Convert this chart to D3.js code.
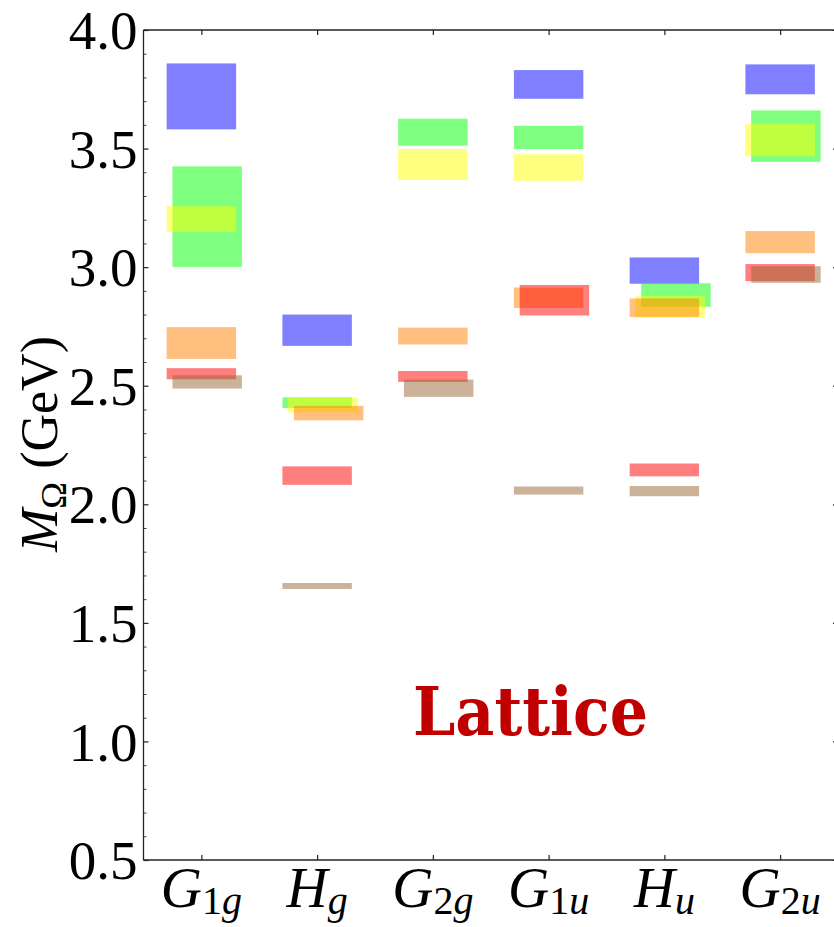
<!DOCTYPE html>
<html>
<head>
<meta charset="utf-8">
<script src="https://cdn.jsdelivr.net/npm/d3@7"></script>
<style>
  html, body { margin: 0; padding: 0; background: #fff; }
  svg { display: block; }
  text { font-family: "Liberation Serif", "Times New Roman", serif; fill: #000; }
</style>
</head>
<body>
<script>
// Omega baryon spectrum by lattice irrep: mass bands [low, high] in GeV
const categories = ["G1g", "Hg", "G2g", "G1u", "Hu", "G2u"];
const catBase = ["G", "H", "G", "G", "H", "G"];
const catSubNum = ["1", "", "2", "1", "", "2"];
const catSubPar = ["g", "g", "g", "u", "u", "u"];

const blueBands   = [[3.581, 3.859], [2.668, 2.800], null,           [3.710, 3.831], [2.930, 3.041], [3.729, 3.855]];
const greenBands  = [[3.001, 3.425], [2.406, 2.451], [3.512, 3.626], [3.498, 3.596], [2.833, 2.932], [3.444, 3.661]];
const yellowBands = [[3.149, 3.257], [2.387, 2.449], [3.368, 3.497], [3.364, 3.476], [2.786, 2.878], [3.468, 3.605]];
const orangeBands = [[2.613, 2.747], [2.354, 2.415], [2.674, 2.745], [2.828, 2.914], [2.790, 2.868], [3.059, 3.152]];
const redBands    = [[2.527, 2.574], [2.082, 2.160], [2.516, 2.562], [2.796, 2.925], [2.118, 2.172], [2.941, 3.013]];
const brownBands  = [[2.488, 2.544], [1.643, 1.668], [2.453, 2.526], [2.041, 2.075], [2.034, 2.077], [2.934, 3.004]];

// small sideways nudge (in lanes) so overlapping bands stay visible
const blueLanes   = [0, 0, 0, 0, 0, 0];
const greenLanes  = [1, 0, 0, 0, 2, 1];
const yellowLanes = [0, 1, 0, 0, 1, 0];
const orangeLanes = [0, 2, 0, 0, 0, 0];
const redLanes    = [0, 0, 0, 1, 0, 0];
const brownLanes  = [1, 0, 1, 0, 0, 1];

const yTicks = [0.5, 1.0, 1.5, 2.0, 2.5, 3.0, 3.5, 4.0];

const series = [
  { bands: blueBands,   lanes: blueLanes,   color: "rgb(0,0,255)" },
  { bands: greenBands,  lanes: greenLanes,  color: "rgb(0,255,0)" },
  { bands: yellowBands, lanes: yellowLanes, color: "rgb(255,255,0)" },
  { bands: orangeBands, lanes: orangeLanes, color: "rgb(255,128,0)" },
  { bands: redBands,    lanes: redLanes,    color: "rgb(255,0,0)" },
  { bands: brownBands,  lanes: brownLanes,  color: "rgb(153,102,51)" }
];

const W = 834, H = 927;
const frameL = 143.5, frameR = 838, frameT = 30, frameB = 860;

const svg = d3.select("body").append("svg")
  .attr("width", W).attr("height", H);

const x = d3.scalePoint().domain(categories).range([frameL, frameR]).padding(0.5);
const y = d3.scaleLinear().domain([0.5, 4.0]).range([frameB, frameT]);
const step = x.step();
const barW = step * 0.6;
const laneW = step * 0.05;

// bands
const plot = svg.append("g");
series.forEach(s => {
  const rows = categories.map((c, i) => ({ c, band: s.bands[i], lane: s.lanes[i] }))
    .filter(d => d.band);
  plot.selectAll(null).data(rows).enter().append("rect")
    .attr("x", d => x(d.c) - barW / 2 + d.lane * laneW)
    .attr("width", barW)
    .attr("y", d => y(d.band[1]))
    .attr("height", d => y(d.band[0]) - y(d.band[1]))
    .attr("fill", s.color)
    .attr("fill-opacity", 0.5);
});

// frame
const frame = svg.append("g").attr("stroke", "#222").attr("stroke-width", 1.3).attr("fill", "none");
frame.append("line").attr("x1", frameL).attr("x2", frameL).attr("y1", frameT).attr("y2", frameB);
frame.append("line").attr("x1", frameL).attr("x2", frameR).attr("y1", frameB).attr("y2", frameB);
frame.append("line").attr("x1", frameL).attr("x2", frameR).attr("y1", frameT).attr("y2", frameT);
frame.append("line").attr("x1", frameR).attr("x2", frameR).attr("y1", frameT).attr("y2", frameB);

// left axis: major ticks with labels, minor ticks every 0.1
const yAxis = d3.axisRight(y).tickValues(yTicks).tickSize(5).tickFormat(d3.format(".1f"));
const gy = svg.append("g").attr("transform", `translate(${frameL},0)`).call(yAxis);
gy.select(".domain").remove();
gy.selectAll(".tick line").attr("stroke", "#222").attr("stroke-width", 1.2);
gy.selectAll(".tick text")
  .attr("x", -6).attr("dy", "0.34em")
  .attr("text-anchor", "end")
  .style("font-family", "'Liberation Serif', serif")
  .style("font-size", "55px").attr("fill", "#000");

const minorVals = d3.range(5, 41).map(v => v / 10).filter(v => Math.abs(v * 2 - Math.round(v * 2)) > 1e-6);
const gyMinor = svg.append("g").attr("transform", `translate(${frameL},0)`)
  .call(d3.axisRight(y).tickValues(minorVals).tickSize(3).tickFormat(""));
gyMinor.select(".domain").remove();
gyMinor.selectAll(".tick line").attr("stroke", "#444").attr("stroke-width", 1);

// mirrored ticks on the right edge
const gyR = svg.append("g").attr("transform", `translate(${frameR},0)`)
  .call(d3.axisLeft(y).tickValues(yTicks).tickSize(5).tickFormat(""));
gyR.select(".domain").remove();
gyR.selectAll(".tick line").attr("stroke", "#222").attr("stroke-width", 1.2);

// bottom axis ticks (pointing inward) and top mirrored ticks
const gx = svg.append("g").attr("transform", `translate(0,${frameB})`)
  .call(d3.axisTop(x).tickSize(5).tickFormat(""));
gx.select(".domain").remove();
gx.selectAll(".tick line").attr("stroke", "#222").attr("stroke-width", 1.2);
const gxT = svg.append("g").attr("transform", `translate(0,${frameT})`)
  .call(d3.axisBottom(x).tickSize(5).tickFormat(""));
gxT.select(".domain").remove();
gxT.selectAll(".tick line").attr("stroke", "#222").attr("stroke-width", 1.2);

// category labels: italic letter with subscript
const labels = svg.append("g");
categories.forEach((c, i) => {
  const t = labels.append("text")
    .attr("x", x(c)).attr("y", 907)
    .attr("text-anchor", "middle")
    .style("font-size", "57px");
  t.append("tspan").attr("font-style", "italic").text(catBase[i]);
  if (catSubNum[i]) {
    t.append("tspan").attr("dy", 7).style("font-size", "40px").text(catSubNum[i]);
    t.append("tspan").attr("font-style", "italic").style("font-size", "40px").text(catSubPar[i]);
  } else {
    t.append("tspan").attr("dy", 7).attr("font-style", "italic").style("font-size", "40px").text(catSubPar[i]);
  }
});

// y-axis title
const yt = svg.append("text")
  .attr("transform", "translate(57,444) rotate(-90)")
  .attr("text-anchor", "middle")
  .style("font-size", "52px");
yt.append("tspan").attr("font-style", "italic").text("M");
yt.append("tspan").attr("dy", 9).style("font-size", "36px").text("Ω");
yt.append("tspan").attr("dy", -9).text(" (GeV)");

// panel title
svg.append("text")
  .attr("x", 530.5).attr("y", 735)
  .attr("text-anchor", "middle")
  .attr("font-weight", "bold")
  .attr("textLength", 235).attr("lengthAdjust", "spacingAndGlyphs")
  .style("font-family", "'DejaVu Serif', 'Liberation Serif', serif")
  .style("font-size", "68px")
  .style("fill", "#C00000")
  .text("Lattice");
</script>
</body>
</html>
